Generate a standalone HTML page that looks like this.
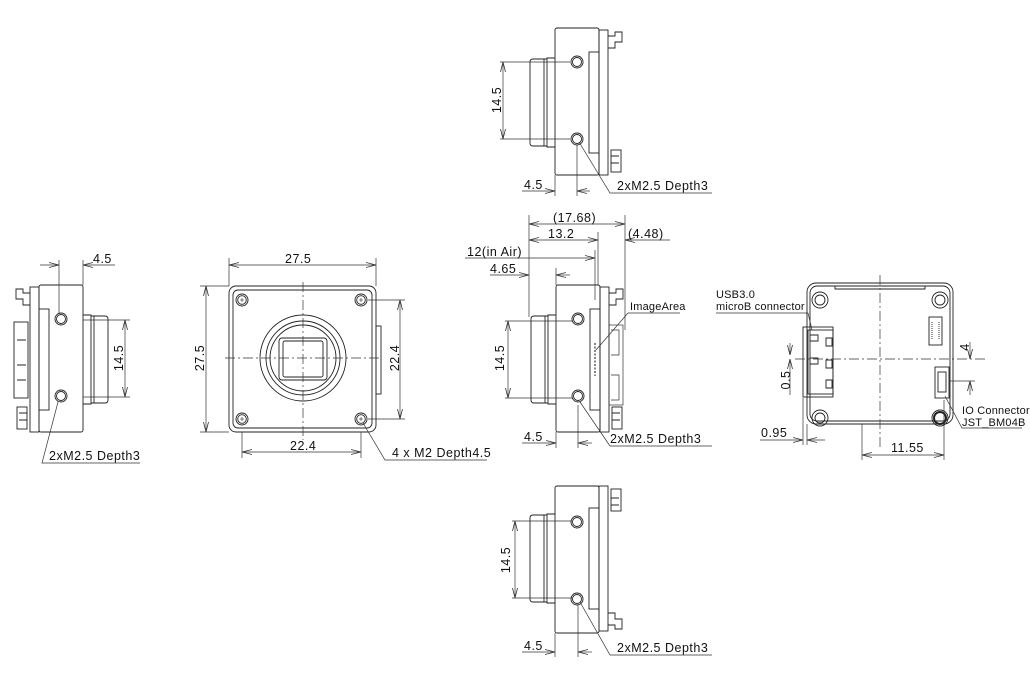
<!DOCTYPE html>
<html><head><meta charset="utf-8"><style>
html,body{margin:0;padding:0;background:#fff;}
svg{display:block;}
text{font-family:"Liberation Sans",sans-serif;font-size:12.5px;letter-spacing:0.5px;fill:#111;}
text.s{font-size:11px;letter-spacing:0.2px;}
</style></head><body>
<svg width="1030" height="700" viewBox="0 0 1030 700" xmlns="http://www.w3.org/2000/svg">
<defs>
<marker id="a" viewBox="0 0 10 6" refX="10" refY="3" markerWidth="10" markerHeight="6" orient="auto-start-reverse" markerUnits="userSpaceOnUse"><path d="M0,0.5 L10,3 L0,5.5" fill="none" stroke="#333" stroke-width="0.8"/></marker>
<g id="side" fill="none" stroke="#222" stroke-width="0.9">
  <rect x="0" y="0" width="44" height="147" rx="2" fill="#fff"/>
  <rect x="44" y="2" width="9" height="145"/>
  <rect x="34" y="24" width="10" height="101"/>
  <path d="M0,30 H-8 V119 H0"/>
  <path d="M-8,31 H-22 Q-25,31 -25,34 V115 Q-25,118 -22,118 H-8"/>
  <line x1="-11" y1="31" x2="-11" y2="118"/>
  <circle cx="22" cy="34" r="6"/><circle cx="22" cy="34" r="4.5"/>
  <circle cx="22" cy="111" r="6"/><circle cx="22" cy="111" r="4.5"/>
  <path d="M53,8 H60 V4 H67 V14 H60 V20 H53" />
  <rect x="56" y="122" width="10" height="22"/>
  <path d="M56,128 H64 M56,135 H64"/>
</g>
<g id="hole" fill="none" stroke="#222" stroke-width="0.9"><circle r="6"/><circle r="4.3"/><path d="M-2,0H2M0,-2V2" stroke-width="0.6"/></g>
</defs>

<g stroke="#333" stroke-width="0.7" fill="none">
<use href="#side" x="555" y="28"/>
<path d="M500,62 H570 M500,139 H570 M555,175 V196 M577,145 V196"/>
<line x1="503" y1="62" x2="503" y2="139" marker-start="url(#a)" marker-end="url(#a)"/>
<line x1="522" y1="191" x2="555" y2="191" marker-end="url(#a)"/>
<line x1="577" y1="191" x2="590" y2="191" marker-start="url(#a)"/>
<path d="M579,142 L610,193 H712"/>

<use href="#side" x="556" y="285"/>
<g transform="translate(556,285)">
<rect x="53" y="40" width="14" height="80"/>
<path d="M55,45 H63 V70 H55 M55,90 H63 V115 H55"/>
</g>
<path d="M529,215 V317 M625,215 V330 M598,232 V285 M595,250 V300 M556,268 V285 M505,321 H572 M505,398 H572 M556,432 V448 M578,405 V448"/>
<line x1="529" y1="224" x2="625" y2="224" marker-start="url(#a)" marker-end="url(#a)"/>
<line x1="529" y1="240" x2="598" y2="240" marker-start="url(#a)" marker-end="url(#a)"/>
<line x1="625" y1="240" x2="670" y2="240" marker-start="url(#a)"/>
<line x1="465" y1="258" x2="595" y2="258" marker-end="url(#a)"/>
<line x1="490" y1="275" x2="529" y2="275" marker-end="url(#a)"/>
<line x1="556" y1="275" x2="570" y2="275" marker-start="url(#a)"/>
<line x1="508" y1="321" x2="508" y2="398" marker-start="url(#a)" marker-end="url(#a)"/>
<line x1="522" y1="443" x2="556" y2="443" marker-end="url(#a)"/>
<line x1="578" y1="443" x2="592" y2="443" marker-start="url(#a)"/>
<path d="M580,402 L610,446 H712"/>
<path d="M596,350 L628,313 H680"/>
<line x1="595" y1="343" x2="595" y2="376" stroke-dasharray="2,1.5" stroke-width="1.2"/>

<g transform="translate(555,633) scale(1,-1)"><use href="#side" x="0" y="0"/></g>
<path d="M512,521 H572 M512,598 H572 M555,633 V657 M578,605 V657"/>
<line x1="515" y1="521" x2="515" y2="598" marker-start="url(#a)" marker-end="url(#a)"/>
<line x1="522" y1="652" x2="555" y2="652" marker-end="url(#a)"/>
<line x1="578" y1="652" x2="592" y2="652" marker-start="url(#a)"/>
<path d="M580,602 L610,655 H712"/>

<g transform="translate(83,285) scale(-1,1)"><use href="#side" x="0" y="0"/></g>
<path d="M83,320 H130 M83,397 H130 M59,260 V314 M83,260 V285"/>
<line x1="125" y1="320" x2="125" y2="397" marker-start="url(#a)" marker-end="url(#a)"/>
<line x1="40" y1="265" x2="59" y2="265" marker-end="url(#a)"/>
<line x1="83" y1="265" x2="115" y2="265" marker-start="url(#a)"/>
<path d="M58,402 L42,463 H140"/>
<g stroke="#222" stroke-width="0.9"><rect x="14" y="322" width="14" height="76"/><path d="M17,340 H26 M17,365 H26 M17,380 H26"/></g>

<g stroke="#222" stroke-width="0.9">
<rect x="229" y="286" width="147" height="146" rx="7"/>
<rect x="233" y="290" width="139" height="138" rx="5"/>
<circle cx="303" cy="358" r="43"/><circle cx="303" cy="358" r="37"/><circle cx="303" cy="358" r="33"/>
<rect x="279" y="338" width="48" height="42" rx="3"/>
<rect x="283" y="341" width="40" height="36" rx="2"/>
<rect x="376" y="326" width="5" height="68"/>
</g>
<use href="#hole" x="242" y="300"/><use href="#hole" x="361" y="300"/><use href="#hole" x="242" y="419"/><use href="#hole" x="361" y="419"/>
<path d="M225,358 H382 M303,282 V440" stroke-dasharray="10,3,2,3"/>
<path d="M229,258 V286 M376,258 V286 M200,286 H229 M200,432 H229 M368,300 H405 M368,419 H405 M242,432 V458 M361,432 V458"/>
<line x1="229" y1="265" x2="376" y2="265" marker-start="url(#a)" marker-end="url(#a)"/>
<line x1="206" y1="286" x2="206" y2="432" marker-start="url(#a)" marker-end="url(#a)"/>
<line x1="400" y1="300" x2="400" y2="419" marker-start="url(#a)" marker-end="url(#a)"/>
<line x1="242" y1="452" x2="361" y2="452" marker-start="url(#a)" marker-end="url(#a)"/>
<path d="M363,423 L385,460 H487"/>

<g stroke="#222" stroke-width="0.9">
<rect x="807" y="283" width="146" height="141" rx="9"/>
<rect x="810" y="286" width="140" height="135" rx="7"/>
<path d="M835,286 V289 H925 V286"/>
<circle cx="820" cy="300" r="8"/><circle cx="820" cy="300" r="5"/>
<circle cx="940" cy="300" r="8"/><circle cx="940" cy="300" r="5"/>
<circle cx="820" cy="418" r="8"/><circle cx="820" cy="418" r="5"/>
<circle cx="940" cy="418" r="8"/><circle cx="940" cy="418" r="6" stroke-width="2"/>
<rect x="803" y="327" width="30" height="70"/>
<rect x="808" y="330" width="25" height="64"/>
<path d="M810,335 h8 v6 h-8 z M810,358 h8 v6 h-8 z M826,338 h6 v8 h-6 z M826,360 h6 v8 h-6 z M826,380 h6 v8 h-6 z"/>
<rect x="929" y="317" width="13" height="28"/><path d="M932,322 V340 M939,322 V340" stroke-dasharray="1,1"/>
<rect x="935" y="367" width="14" height="31"/><rect x="938" y="372" width="8" height="20"/>
</g>
<path d="M795,359 H985 M880,275 V450" stroke-dasharray="10,3,2,3"/>
<path d="M950,381 H975 M803,398 V445 M807,424 V445 M944,400 V460 M862,424 V460"/>
<line x1="970" y1="342" x2="970" y2="359" marker-end="url(#a)"/>
<line x1="970" y1="395" x2="970" y2="381" marker-end="url(#a)"/>
<line x1="790" y1="343" x2="790" y2="355" marker-end="url(#a)"/>
<line x1="790" y1="395" x2="790" y2="359" marker-end="url(#a)"/>
<line x1="760" y1="440" x2="803" y2="440" marker-end="url(#a)"/>
<line x1="825" y1="440" x2="807" y2="440" marker-end="url(#a)"/>
<line x1="862" y1="455" x2="944" y2="455" marker-start="url(#a)" marker-end="url(#a)"/>
<path d="M716,313 H808 L812,330"/>
<path d="M945,396 L962,428 H1022"/>
</g>

<text x="497" y="100" text-anchor="middle" transform="rotate(-90 497 100)" dy="4">14.5</text>
<text x="524" y="189">4.5</text>
<text x="617" y="190">2xM2.5 Depth3</text>

<text x="553" y="222">(17.68)</text>
<text x="548" y="238">13.2</text>
<text x="628" y="238">(4.48)</text>
<text x="467" y="256">12(in Air)</text>
<text x="490" y="273">4.65</text>
<text class="s" x="630" y="310">ImageArea</text>
<text x="500" y="358" text-anchor="middle" transform="rotate(-90 500 358)" dy="4">14.5</text>
<text x="524" y="441">4.5</text>
<text x="610" y="443">2xM2.5 Depth3</text>

<text x="506" y="560" text-anchor="middle" transform="rotate(-90 506 560)" dy="4">14.5</text>
<text x="524" y="650">4.5</text>
<text x="617" y="652">2xM2.5 Depth3</text>

<text x="93" y="263">4.5</text>
<text x="119" y="358" text-anchor="middle" transform="rotate(-90 119 358)" dy="4">14.5</text>
<text x="49" y="460">2xM2.5 Depth3</text>

<text x="285" y="263">27.5</text>
<text x="200" y="358" text-anchor="middle" transform="rotate(-90 200 358)" dy="4">27.5</text>
<text x="395" y="358" text-anchor="middle" transform="rotate(-90 395 358)" dy="4">22.4</text>
<text x="290" y="450">22.4</text>
<text x="392" y="457">4 x M2 Depth4.5</text>

<text class="s" x="716" y="298">USB3.0</text>
<text class="s" x="716" y="310">microB connector</text>
<text x="965" y="347" text-anchor="middle" transform="rotate(-90 965 347)" dy="4">4</text>
<text x="786" y="380" text-anchor="middle" transform="rotate(-90 786 380)" dy="4">0.5</text>
<text x="761" y="437">0.95</text>
<text x="891" y="452">11.55</text>
<text class="s" x="962" y="414">IO Connector</text>
<text class="s" x="962" y="426">JST_BM04B</text>
</svg>
</body></html>
